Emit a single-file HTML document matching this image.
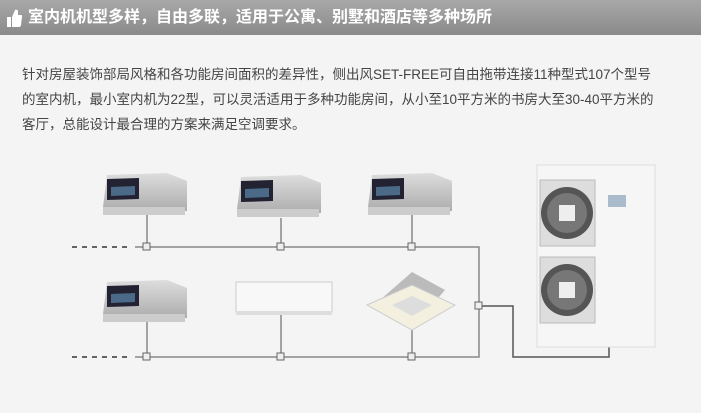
<!DOCTYPE html>
<html><head><meta charset="utf-8"><style>
body{margin:0;width:701px;height:413px;background:#f4f4f4;overflow:hidden;font-family:"Liberation Sans","Noto Sans CJK SC",sans-serif;position:relative}
.hd{position:absolute;left:0;top:0;width:701px;height:35px;background:linear-gradient(#a8a8a8,#8a8a8a);color:#fff;font-size:16px;font-weight:bold;line-height:35px}
.hd span{position:absolute;left:28px;top:0;white-space:nowrap}
.ln{position:absolute;left:22px;font-size:13.5px;color:#444;white-space:nowrap;line-height:16px}
svg{position:absolute;left:0;top:0}
</style></head><body>
<div class="hd"><svg width="22" height="35"><path d="M7 17h4v10H7z M12 17l3-7c1-1 3 0 3 1v4h3c1 0 2 1 1 2l-1 8c0 1-1 2-2 2h-7z" fill="#fff"/></svg><span>室内机机型多样，自由多联，适用于公寓、别墅和酒店等多种场所</span></div>
<div class="ln" style="top:67px">针对房屋装饰部局风格和各功能房间面积的差异性，侧出风SET-FREE可自由拖带连接11种型式107个型号</div>
<div class="ln" style="top:92px">的室内机，最小室内机为22型，可以灵活适用于多种功能房间，从小至10平方米的书房大至30-40平方米的</div>
<div class="ln" style="top:117px">客厅，总能设计最合理的方案来满足空调要求。</div>
<svg width="701" height="413">
<defs>
<linearGradient id="g" x1="0" y1="0" x2="0" y2="1"><stop offset="0" stop-color="#ddd"/><stop offset="1" stop-color="#aaa"/></linearGradient>
<g id="duct"><path d="M-40 -28 L20 -30 L40 -22 L40 8 L-38 10 L-44 4 Z" fill="url(#g)"/><path d="M-40 -24 L-8 -25 L-8 -4 L-40 -3 Z" fill="#223"/><path d="M-36 -16 L-12 -17 L-12 -8 L-36 -7Z" fill="#4a6a88"/><rect x="-44" y="4" width="82" height="8" fill="#ccc"/></g>
<g id="fan"><rect x="0" y="0" width="55" height="66" fill="#ddd" stroke="#bbb"/><circle cx="27" cy="33" r="26" fill="#555"/><circle cx="27" cy="33" r="20" fill="#777"/><rect x="19" y="25" width="16" height="16" fill="#eee"/></g>
</defs>
<g stroke="#888" stroke-width="1.5" fill="none">
<path d="M72 247h5M82 247h5M92 247h5M102 247h5M112 247h5M122 247h5" stroke="#333"/>
<path d="M72 357h5M82 357h5M92 357h5M102 357h5M112 357h5M122 357h5" stroke="#333"/>
<path d="M135 247H479V357H135"/>
<path d="M147 215V247M281 218V247M412 215V247M147 322V357M281 315V357M412 328V357"/>
<path d="M479 306H513V357H609V345" stroke="#555"/>
</g>
<g fill="#eee" stroke="#666">
<rect x="143" y="243" width="7" height="7"/><rect x="277" y="243" width="7" height="7"/><rect x="408" y="243" width="7" height="7"/>
<rect x="143" y="353" width="7" height="7"/><rect x="277" y="353" width="7" height="7"/><rect x="408" y="353" width="7" height="7"/>
<rect x="475" y="302" width="7" height="7"/>
</g>
<use href="#duct" x="147" y="203"/><use href="#duct" x="281" y="205"/><use href="#duct" x="412" y="203"/><use href="#duct" x="147" y="310"/>
<rect x="236" y="282" width="96" height="30" fill="#f8f8f8" stroke="#ccc"/><rect x="236" y="311" width="96" height="4" fill="#ddd"/>
<path d="M380 300L412 272L445 290L412 328Z" fill="#bbb"/><path d="M367 305L412 285L455 305L412 330Z" fill="#f3f0e0" stroke="#ccc"/><path d="M392 305L412 296L432 305L412 316Z" fill="#ddd"/>
<rect x="537" y="165" width="118" height="182" fill="#f6f6f6" stroke="#ddd"/>
<use href="#fan" x="540" y="180"/><use href="#fan" x="540" y="257"/>
<rect x="608" y="195" width="18" height="12" fill="#abc"/>
</svg>
</body></html>
